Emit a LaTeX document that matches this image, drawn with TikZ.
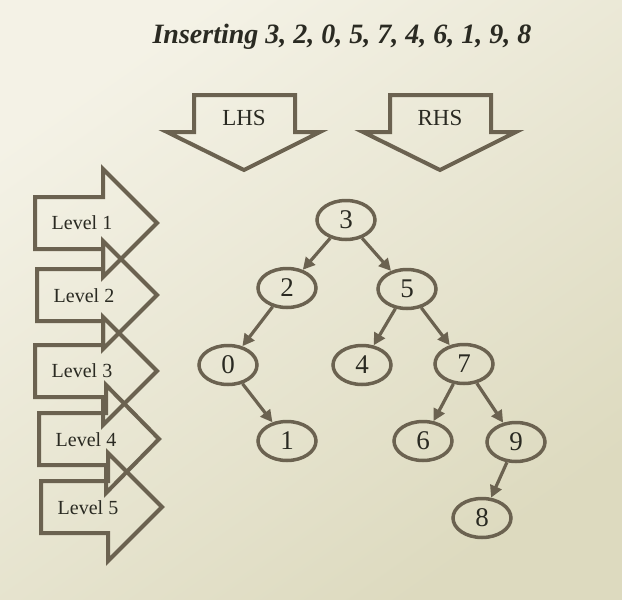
\documentclass[tikz,border=0pt]{standalone}
\usepackage{fontspec}
\setmainfont{Liberation Serif}
\usetikzlibrary{arrows.meta,shapes.geometric}
\definecolor{bgA}{HTML}{F4F2E6}
\definecolor{bgB}{HTML}{DDDABF}
\definecolor{ink}{HTML}{2A2A22}
\definecolor{edgecol}{HTML}{6B6250}
\tikzset{
  bst/.style={draw=edgecol, line width=3.5pt, ellipse, minimum width=58pt, minimum height=39pt, inner sep=0pt, text=ink, font=\fontsize{27}{27}\selectfont},
  link/.style={draw=edgecol, line width=3.2pt, -{Triangle[length=12pt,width=12pt]}},
  blockarrow/.style={draw=edgecol, line width=4pt, line join=miter},
  lvl/.style={text=ink, font=\fontsize{20}{20}\selectfont, inner sep=0pt},
  hs/.style={text=ink, font=\fontsize{23}{23}\selectfont, inner sep=0pt},
}
\begin{document}
\begin{tikzpicture}[x=1pt,y=-1pt]
\useasboundingbox (0,0) rectangle (622,600);
\shade[top color=bgA, bottom color=bgB, shading angle=35] (0,0) rectangle (622,600);

% title
\node[text=ink, font=\fontsize{28}{28}\selectfont\bfseries\itshape, inner sep=0pt] (title) at (342,37) {Inserting 3, 2, 0, 5, 7, 4, 6, 1, 9, 8};

% down arrows
\draw[blockarrow] (194,95) -- (295,95) -- (295,132) -- (320,132) -- (244,170) -- (167,132) -- (194,132) -- cycle;
\node[hs] (lhs) at (244,118) {LHS};
\draw[blockarrow] (390,95) -- (491,95) -- (491,132) -- (516,132) -- (440,170) -- (363,132) -- (390,132) -- cycle;
\node[hs] (rhs) at (440,118) {RHS};

% level arrows
\foreach \L/\B/\T/\C in {35/103/157/223, 37/103/157/295, 35/103/157/371, 39/106/159/439, 41/108/162/507}{
  \draw[blockarrow] (\L,\C-26) -- (\B,\C-26) -- (\B,\C-54) -- (\T,\C) -- (\B,\C+54) -- (\B,\C+26) -- (\L,\C+26) -- cycle;
}
\node[lvl] (l1) at (82,223) {Level 1};
\node[lvl] (l2) at (84,296) {Level 2};
\node[lvl] (l3) at (82,371) {Level 3};
\node[lvl] (l4) at (86,440) {Level 4};
\node[lvl] (l5) at (88,508) {Level 5};

% tree
\node[bst] (n3) at (346,220) {3};
\node[bst] (n2) at (287,288) {2};
\node[bst] (n5) at (407,289) {5};
\node[bst] (n0) at (228,365) {0};
\node[bst] (n4) at (362,365) {4};
\node[bst] (n7) at (464,364) {7};
\node[bst] (n1) at (287,441) {1};
\node[bst] (n6) at (423,441) {6};
\node[bst] (n9) at (516,442) {9};
\node[bst] (n8) at (482,518) {8};

\draw[link] (n3) -- (n2);
\draw[link] (n3) -- (n5);
\draw[link] (n2) -- (n0);
\draw[link] (n0) -- (n1);
\draw[link] (n5) -- (n4);
\draw[link] (n5) -- (n7);
\draw[link] (n7) -- (n6);
\draw[link] (n7) -- (n9);
\draw[link] (n9) -- (n8);
\end{tikzpicture}
\end{document}
